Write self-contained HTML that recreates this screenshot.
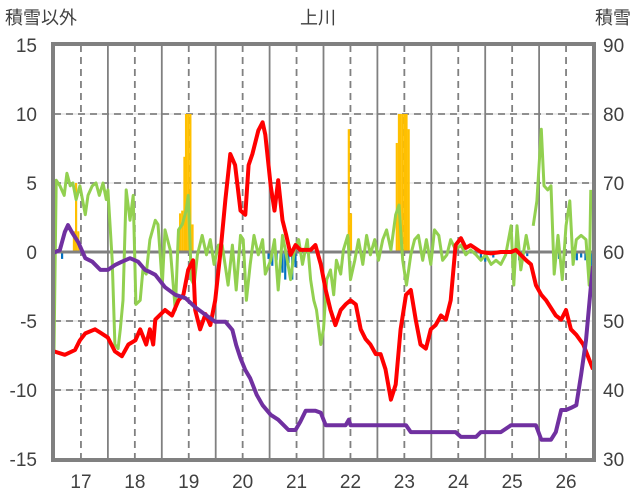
<!DOCTYPE html>
<html><head><meta charset="utf-8"><style>
body{margin:0;background:#fff;}
svg{display:block;font-family:"Liberation Sans","Noto Sans CJK JP",sans-serif;}
</style></head><body>
<svg id="chart" width="636" height="501" xmlns="http://www.w3.org/2000/svg">
<text x="5" y="24" font-size="18" fill="#404040">積雪以外</text>
<text x="318" y="24" font-size="18" fill="#404040" text-anchor="middle">上川</text>
<text x="631" y="24" font-size="18" fill="#404040" text-anchor="end">積雪</text>
<g id="grid"></g>
<g id="bars"></g>
<g id="lines"></g>
<g id="axes"></g>
</svg>
<script>
const dayLabels=[17,18,19,20,21,22,23,24,25,26];
const leftTicks=[15,10,5,0,-5,-10,-15];
const rightTicks=[90,80,70,60,50,40,30];
const redT=[16.50,16.70,16.89,16.98,17.08,17.26,17.36,17.50,17.63,17.76,17.88,18.01,18.10,18.21,18.28,18.34,18.38,18.56,18.69,18.81,18.90,18.99,19.08,19.12,19.21,19.31,19.40,19.49,19.59,19.68,19.77,19.86,19.96,20.05,20.11,20.18,20.29,20.37,20.42,20.52,20.59,20.66,20.74,20.81,20.89,20.98,21.07,21.26,21.35,21.45,21.54,21.63,21.72,21.82,21.91,22.00,22.10,22.19,22.28,22.37,22.47,22.56,22.65,22.75,22.84,22.93,23.03,23.12,23.21,23.30,23.40,23.49,23.58,23.68,23.77,23.86,23.95,24.05,24.14,24.23,24.42,24.61,24.79,24.98,25.07,25.16,25.26,25.35,25.44,25.54,25.63,25.81,25.91,26.00,26.09,26.19,26.32,26.43,26.50];
const redV=[-7.2,-7.45,-7.1,-6.4,-5.9,-5.6,-5.85,-6.2,-7.2,-7.55,-6.7,-6.4,-5.6,-6.7,-5.6,-6.7,-4.9,-4.2,-4.6,-3.5,-3.1,-1.3,-0.6,-4.2,-5.6,-4.5,-5.3,-3.5,0.1,3.8,7.1,6.3,3.0,2.7,6.3,7.1,8.8,9.4,8.5,4.8,3.0,5.2,2.3,1.2,-0.2,0.5,0.15,0.15,0.5,-0.9,-2.75,-4.2,-5.3,-4.2,-3.8,-3.5,-3.8,-5.6,-6.3,-6.7,-7.4,-7.4,-8.5,-10.7,-9.6,-5.6,-3.1,-2.75,-4.9,-6.7,-7.0,-5.6,-5.3,-4.6,-4.9,-3.5,0.5,1.0,0.3,0.5,0,-0.1,0,0,0.15,-0.2,-0.6,-0.9,-2.4,-3.1,-3.5,-4.6,-4.9,-4.2,-5.6,-6.0,-6.7,-7.8,-8.5];
const greenT=[16.50,16.54,16.61,16.69,16.74,16.80,16.85,16.91,16.98,17.08,17.13,17.21,17.28,17.34,17.41,17.47,17.50,17.58,17.63,17.69,17.73,17.78,17.84,17.91,17.97,18.02,18.10,18.15,18.21,18.28,18.38,18.43,18.47,18.51,18.56,18.66,18.75,18.81,18.88,18.95,18.99,19.05,19.10,19.16,19.25,19.33,19.40,19.47,19.55,19.62,19.73,19.81,19.88,19.96,20.01,20.07,20.14,20.21,20.29,20.37,20.42,20.52,20.59,20.66,20.74,20.81,20.89,20.96,21.04,21.11,21.20,21.26,21.32,21.37,21.45,21.50,21.56,21.63,21.69,21.74,21.82,21.87,21.95,22.00,22.08,22.15,22.23,22.30,22.37,22.45,22.52,22.60,22.67,22.75,22.84,22.90,22.97,23.04,23.12,23.19,23.26,23.34,23.41,23.49,23.56,23.64,23.71,23.79,23.86,23.95,24.05,24.14,24.23,24.33,24.42,24.51,24.61,24.70,24.79,24.88,24.98,25.03,25.09,25.16,25.26,25.31,25.35,25.39,25.46,25.54,25.59,25.66,25.72,25.78,25.85,25.93,26.00,26.07,26.13,26.19,26.28,26.37,26.43,26.46];
const greenV=[-7.2,5.2,4.8,4.1,5.7,4.8,5.0,3.8,4.8,2.7,4.1,4.8,5.0,4.1,5.0,3.8,4.5,-0.6,-6.7,-7.0,-5.6,-3.5,4.5,2.3,4.1,-3.8,-3.5,-1.3,-1.6,0.9,2.3,2.0,-0.2,-2.4,1.6,0.1,-4.2,1.6,2.0,3.0,4.1,-2.0,-2.4,-0.2,1.2,-0.2,0.9,-0.9,0.5,0.5,-2.4,0.5,-2.75,1.2,0.9,-3.5,-0.9,1.2,-0.2,0.9,-1.6,-0.6,0.9,-2.75,1.2,-0.2,-2.0,0.15,0.9,-0.9,0.9,-2.0,-3.5,-4.2,-6.7,-5.6,-2.0,-1.3,-3.1,-0.6,-1.6,0.15,1.2,-2.0,-0.6,0.9,-0.9,1.2,-0.2,0.9,-0.6,0.9,1.6,0.15,2.7,3.4,-0.6,-2.4,-0.2,0.9,1.2,-0.6,0.9,-0.9,1.6,1.2,-0.6,-0.2,0.9,0.15,0.5,-0.2,0.15,-0.2,-0.6,-0.2,-0.9,-0.6,-0.9,-0.2,1.9,-2.4,1.9,-1.3,1.2,0.15,null,1.9,3.7,8.9,4.8,4.5,4.8,-1.6,1.2,-2.0,1.9,3.7,-0.9,0.9,1.2,0.9,-2.4,4.5];
const snowT=[16.50,16.61,16.70,16.76,16.83,16.95,17.08,17.21,17.36,17.50,17.63,17.76,17.91,18.06,18.19,18.28,18.38,18.56,18.75,18.94,19.12,19.31,19.49,19.68,19.81,19.88,19.96,20.05,20.14,20.26,20.37,20.52,20.66,20.85,20.98,21.07,21.17,21.35,21.45,21.54,21.91,21.97,22.00,23.03,23.12,23.95,24.05,24.33,24.42,24.79,24.98,25.44,25.54,25.72,25.81,25.91,26.00,26.09,26.19,26.28,26.37,26.46,26.50];
const snowV=[59.9,60.3,62.9,63.9,62.9,61.4,59.1,58.6,57.4,57.4,58.1,58.6,59.1,58.6,57.4,57.1,56.7,54.9,53.8,53.3,52.0,50.9,49.9,49.9,48.7,46.5,44.6,42.9,41.7,39.3,37.8,36.4,35.7,34.2,34.2,35.4,37.0,37.0,36.7,34.9,34.9,35.7,34.9,34.9,33.9,33.9,33.2,33.2,33.9,33.9,34.9,34.9,32.8,32.8,33.9,37.1,37.1,37.4,37.8,42.2,47.2,54.9,58.0];
const posBarT=[16.87,16.91,16.95,18.84,18.88,18.92,18.95,18.99,19.03,19.07,21.97,22.01,22.86,22.90,22.93,22.97,23.01,23.04,23.08];
const posBarV=[1.5,5.0,1.5,2.8,3.0,6.9,10,10,10,2.0,8.9,2.8,7.9,10,10,10,10,10,8.9];
const negBarT=[16.65,20.48,20.55,20.63,20.74,20.79,20.85,20.92,20.98,24.42,24.50,24.65,25.13,25.28,25.87,26.20,26.28,26.36,26.46];
const negBarV=[-0.5,-0.5,-1.0,-0.6,-1.5,-2.0,-0.8,-2.0,-1.1,-0.5,-0.7,-0.4,-0.6,-0.3,-0.5,-0.6,-0.4,-0.6,-1.0];

const L=54,R=593,T=45,B=459,t0=16.5,t1=26.5;
const xs=t=>L+(t-t0)/(t1-t0)*(R-L);
const yl=v=>T+(15-v)/30*(B-T);
const yr=v=>T+(90-v)/60*(B-T);
const NS="http://www.w3.org/2000/svg";
function mk(tag,parent,attrs){const e=document.createElementNS(NS,tag);for(const k in attrs)e.setAttribute(k,attrs[k]);parent.appendChild(e);return e;}
const grid=document.getElementById('grid'),bars=document.getElementById('bars'),lines=document.getElementById('lines'),axes=document.getElementById('axes');
leftTicks.forEach(v=>{if(v===15||v===-15||v===0)return;
 const l=mk('line',grid,{x1:L,x2:R,y1:yl(v),y2:yl(v),stroke:'#d9d9d9','stroke-width':1});
 
 
 const d=mk('line',grid,{x1:L,x2:R,y1:yl(v),y2:yl(v),stroke:'#808080','stroke-width':1.8,'stroke-dasharray':'7,5'});
 
 });
dayLabels.forEach(d=>{
 const l=mk('line',grid,{x1:xs(d),x2:xs(d),y1:T,y2:B,stroke:'#808080','stroke-width':1.8,'stroke-dasharray':'7,5'});
 
 
 if(d<26){const s=mk('line',grid,{x1:xs(d+0.5),x2:xs(d+0.5),y1:T,y2:B,stroke:'#808080','stroke-width':1.8});
 
 }
});
const bw=2.2;
posBarT.forEach((t,i)=>{const y=yl(posBarV[i]);const r=mk('rect',bars,{x:xs(t)-bw/2,y:y,width:bw,height:yl(0)-y,fill:'#ffc000'});
 
 });
negBarT.forEach((t,i)=>{const y=yl(negBarV[i]);const r=mk('rect',bars,{x:xs(t)-bw/2,y:yl(0),width:bw,height:y-yl(0),fill:'#0070c0'});
 
 });
const z=mk('line',lines,{x1:L,x2:R,y1:yl(0),y2:yl(0),stroke:'#808080','stroke-width':3});


function path(T_,V_,f){let d='',pen=false;T_.forEach((t,i)=>{const v=V_[i];if(v===null){pen=false;return;}d+=(pen?'L':'M')+xs(t).toFixed(1)+','+f(v).toFixed(1);pen=true;});return d;}
const g=mk('path',lines,{d:path(greenT,greenV,yl),fill:'none',stroke:'#92d050','stroke-width':3,'stroke-linejoin':'round'});


const r=mk('path',lines,{d:path(redT,redV,yl),fill:'none',stroke:'#ff0000','stroke-width':4,'stroke-linejoin':'round'});


const p=mk('path',lines,{d:path(snowT,snowV,yr),fill:'none',stroke:'#7030a0','stroke-width':4,'stroke-linejoin':'round'});


const fr=mk('rect',axes,{x:L-1,y:T-1,width:R-L+2,height:B-T+2,fill:'none',stroke:'#808080','stroke-width':4});


leftTicks.forEach(v=>{const e=mk('text',axes,{x:37,y:yl(v)+7,'font-size':19,fill:'#404040','text-anchor':'end'});e.textContent=v;
 
 });
rightTicks.forEach(v=>{const e=mk('text',axes,{x:603,y:yr(v)+7,'font-size':19,fill:'#404040'});e.textContent=v;
 
 });
dayLabels.forEach(d=>{const e=mk('text',axes,{x:xs(d),y:488,'font-size':19,fill:'#404040','text-anchor':'middle'});e.textContent=d;
 
 });
</script>
</body></html>
